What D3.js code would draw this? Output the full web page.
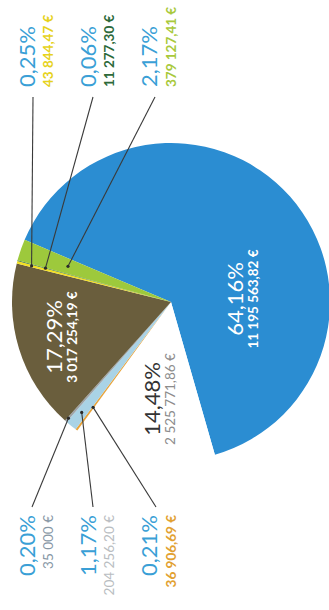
<!DOCTYPE html>
<html>
<head>
<meta charset="utf-8">
<script src="https://cdn.jsdelivr.net/npm/d3@7"></script>
<style>
  html, body { margin: 0; padding: 0; background: #fff; overflow: hidden; }
  text { font-family: Lato, "Open Sans", sans-serif; }
</style>
</head>
<body>
<svg id="chart" width="329" height="610"></svg>
<script>
// Amounts in euros, in drawing order (clockwise from the large share)
const amounts = [11195563.82, 2525771.86, 36906.69, 204256.20, 35000.00, 3017254.19, 43844.47, 11277.30, 379127.41];
const percentLabels = ["64,16%", "14,48%", "0,21%", "1,17%", "0,20%", "17,29%", "0,25%", "0,06%", "2,17%"];
const sliceColors = ["#2b8dd2", "#ffffff", "#e9a43b", "#a9d3e6", "#9da3a8", "#6a5e3d", "#f3df22", "#2e6b3b", "#9dc93c"];
const percentColors = ["#ffffff", "#333333", "#3a9fd6", "#3a9fd6", "#3a9fd6", "#ffffff", "#3a9fd6", "#3a9fd6", "#3a9fd6"];
const amountColors = ["#ffffff", "#8c8c8c", "#e2a131", "#b9bdc1", "#8797a5", "#ffffff", "#e6d21c", "#2d6a3a", "#a9c93c"];
const amountBold = [true, false, true, false, false, true, true, true, true];

// Placement of each label pair, in the chart's own (rotated) frame
const placement = [
  { u: 311, vp: 243, va: 258, anchor: "middle" },
  { u: 211, vp: 160, va: 175, anchor: "middle" },
  { u: 95,  vp: 157, va: 176, anchor: "end", line: { u: 103, v: 156, r: 131 } },
  { u: 95,  vp: 96,  va: 114, anchor: "end", line: { u: 103, v: 93,  r: 142 } },
  { u: 95,  vp: 35,  va: 53,  anchor: "end", line: { u: 103, v: 32,  r: 155 } },
  { u: 273, vp: 62,  va: 77,  anchor: "middle" },
  { u: 523, vp: 35,  va: 53,  anchor: "start", line: { u: 513, v: 33,  r: 144 } },
  { u: 523, vp: 96,  va: 114, anchor: "start", line: { u: 513, v: 93,  r: 130 } },
  { u: 523, vp: 157, va: 176, anchor: "start", line: { u: 513, v: 155, r: 109 } }
];

const W = 329, H = 610;
const radius = 159;
const center = [308, 171];
const startDeg = 23;

const euro = d3.formatLocale({ decimal: ",", thousands: "\u00a0", grouping: [3], currency: ["", "\u00a0€"] });
const fmt2 = euro.format("$,.2f"), fmt0 = euro.format("$,.0f");
const fmtAmount = v => (Number.isInteger(v) ? fmt0(v) : fmt2(v));

const svg = d3.select("#chart");
// The whole figure is laid out sideways: local x runs up the page, local y runs right
const root = svg.append("g").attr("transform", `translate(0,${H}) rotate(-90)`);

const pie = d3.pie().sort(null).value(d => d)
  .startAngle(startDeg * Math.PI / 180)
  .endAngle(startDeg * Math.PI / 180 + 2 * Math.PI);
const arcs = pie(amounts);
const arc = d3.arc().innerRadius(0).outerRadius(radius);

const pieG = root.append("g").attr("transform", `translate(${center[0]},${center[1]})`);
pieG.selectAll("path").data(arcs).join("path")
  .attr("d", arc)
  .attr("fill", (d, i) => sliceColors[i]);

// Leader lines from outside labels to their slices
const lines = root.append("g");
arcs.forEach((d, i) => {
  const p = placement[i];
  if (!p.line) return;
  const c = d3.arc().innerRadius(p.line.r).outerRadius(p.line.r).centroid(d);
  const x2 = center[0] + c[0], y2 = center[1] + c[1];
  lines.append("line")
    .attr("x1", p.line.u).attr("y1", p.line.v)
    .attr("x2", x2).attr("y2", y2)
    .attr("stroke", "#3a3a3a").attr("stroke-width", 1.1);
  lines.append("circle").attr("cx", x2).attr("cy", y2).attr("r", 1.6).attr("fill", "#2a2a2a");
});

// Percent and amount labels
const labels = root.append("g");
arcs.forEach((d, i) => {
  const p = placement[i];
  labels.append("text")
    .attr("x", p.u).attr("y", p.vp)
    .attr("text-anchor", p.anchor)
    .attr("font-size", 22)
    .attr("fill", percentColors[i])
    .text(percentLabels[i]);
  labels.append("text")
    .attr("x", p.u).attr("y", p.va)
    .attr("text-anchor", p.anchor)
    .attr("font-size", 13.5)
    .attr("font-weight", amountBold[i] ? 700 : 400)
    .attr("fill", amountColors[i])
    .text(fmtAmount(amounts[i]));
});
</script>
</body>
</html>
